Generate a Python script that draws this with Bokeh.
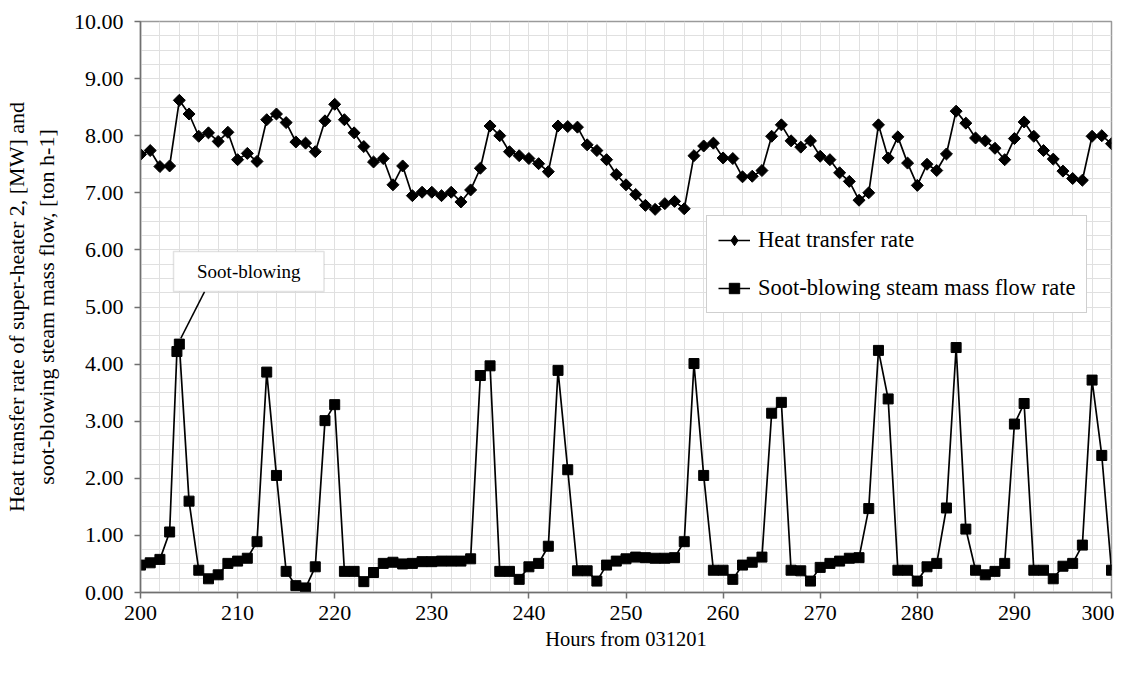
import numpy as np
from bokeh.plotting import figure
from bokeh.models import (SingleIntervalTicker, NumeralTickFormatter, BoxAnnotation,
                          Label, Legend, LegendItem)
from bokeh.embed import file_html
from bokeh.resources import INLINE

hours = list(range(200, 301))
heat_rate = [7.67, 7.74, 7.46, 7.47, 8.62, 8.38, 7.99, 8.05, 7.90, 8.06,
             7.58, 7.69, 7.55, 8.28, 8.38, 8.23, 7.89, 7.87, 7.72, 8.26,
             8.55, 8.28, 8.05, 7.81, 7.54, 7.60, 7.14, 7.47, 6.95, 7.01,
             7.01, 6.95, 7.01, 6.84, 7.05, 7.43, 8.17, 8.00, 7.72, 7.65,
             7.60, 7.51, 7.37, 8.17, 8.16, 8.15, 7.84, 7.74, 7.58, 7.32,
             7.14, 6.97, 6.78, 6.71, 6.81, 6.85, 6.72, 7.65, 7.82, 7.87,
             7.61, 7.60, 7.28, 7.29, 7.39, 7.99, 8.19, 7.91, 7.80, 7.91,
             7.64, 7.58, 7.35, 7.20, 6.87, 7.00, 8.19, 7.61, 7.98, 7.52,
             7.13, 7.50, 7.39, 7.68, 8.43, 8.22, 7.96, 7.91, 7.78, 7.58,
             7.95, 8.24, 7.99, 7.74, 7.59, 7.38, 7.25, 7.22, 7.99, 8.00,
             7.86]

soot_hours = [200, 201, 202, 203, 203.75] + list(range(204, 301))
soot_flow = [0.48, 0.52, 0.58, 1.06, 4.22, 4.35, 1.60, 0.39, 0.24, 0.31,
             0.51, 0.55, 0.60, 0.89, 3.86, 2.05, 0.37, 0.12, 0.08, 0.45,
             3.01, 3.29, 0.37, 0.37, 0.19, 0.35, 0.51, 0.53, 0.50, 0.51,
             0.54, 0.54, 0.55, 0.55, 0.55, 0.59, 3.80, 3.97, 0.37, 0.37,
             0.23, 0.45, 0.51, 0.81, 3.89, 2.15, 0.38, 0.38, 0.20, 0.48,
             0.55, 0.59, 0.62, 0.61, 0.60, 0.60, 0.61, 0.89, 4.01, 2.05,
             0.39, 0.39, 0.23, 0.48, 0.53, 0.62, 3.14, 3.33, 0.39, 0.38,
             0.20, 0.44, 0.51, 0.55, 0.60, 0.61, 1.47, 4.24, 3.39, 0.39,
             0.39, 0.20, 0.45, 0.51, 1.48, 4.29, 1.11, 0.39, 0.31, 0.37,
             0.51, 2.95, 3.31, 0.39, 0.39, 0.24, 0.46, 0.51, 0.83, 3.72,
             2.40, 0.39]

# annotation ("Soot-blowing" call-out box) in data units
note_box = dict(left=203.4, right=218.9, bottom=5.27, top=5.97)
note_line_x = [206.6, 204.15]
note_line_y = [5.27, 4.45]

FONT = "Liberation Serif"

p = figure(width=1114, height=657, x_range=(200, 300), y_range=(0, 10),
           output_backend="svg", toolbar_location=None,
           min_border_left=139, min_border_right=3,
           min_border_top=21, min_border_bottom=65)

p.background_fill_color = "white"
p.border_fill_color = "white"
p.outline_line_color = "#9a9a9a"
p.outline_line_width = 1.5

# grids
p.xgrid.ticker = SingleIntervalTicker(interval=2)
p.ygrid.ticker = SingleIntervalTicker(interval=0.25)
p.xgrid.grid_line_color = "#e0e0e0"
p.ygrid.grid_line_color = "#e0e0e0"
p.xgrid.grid_line_width = 1
p.ygrid.grid_line_width = 1

# axes
p.xaxis.ticker = SingleIntervalTicker(interval=10, num_minor_ticks=0)
p.yaxis.ticker = SingleIntervalTicker(interval=1, num_minor_ticks=0)
p.yaxis.formatter = NumeralTickFormatter(format="0.00")
for ax in (p.xaxis[0], p.yaxis[0]):
    ax.axis_line_color = "#707070"
    ax.axis_line_width = 1.5
    ax.major_tick_line_color = "#707070"
    ax.major_tick_line_width = 1.5
    ax.major_tick_in = 0
    ax.major_tick_out = 6
    ax.minor_tick_line_color = None
    ax.major_label_text_font = FONT
    ax.major_label_text_font_size = "22px"
    ax.major_label_text_color = "black"
    ax.axis_label_text_font = FONT
    ax.axis_label_text_font_style = "normal"
    ax.axis_label_text_color = "black"

p.xaxis.axis_label = "Hours from 031201"
p.xaxis.axis_label_text_font_size = "20.5px"
p.xaxis.major_label_standoff = 7
p.xaxis.axis_label_standoff = 5
p.yaxis.axis_label = ("Heat transfer rate of super-heater 2, [MW] and\n"
                      "soot-blowing steam mass flow, [ton h-1]")
p.yaxis.axis_label_text_font_size = "22px"
p.yaxis.major_label_standoff = 11
p.yaxis.axis_label_standoff = 12

# series
l1 = p.line(hours, heat_rate, line_color="black", line_width=1.7)
m1 = p.scatter(hours, heat_rate, marker="square", angle=np.pi / 4, size=8.5,
               fill_color="black", line_color="black")
l2 = p.line(soot_hours, soot_flow, line_color="black", line_width=1.7)
m2 = p.scatter(soot_hours, soot_flow, marker="square", size=10,
               fill_color="black", line_color="black")
# legend key glyph (a single undrawn NaN point) so the legend shows a diamond
m1_key = p.scatter(x=hours[:1], y=[np.nan], marker="diamond", size=12,
                   fill_color="black", line_color="black")

# annotation
p.add_layout(BoxAnnotation(left=note_box["left"], right=note_box["right"],
                           bottom=note_box["bottom"], top=note_box["top"],
                           fill_color="white", fill_alpha=1.0,
                           line_color="#a0a0a0", line_width=1.5, level="overlay"))
p.add_layout(Label(x=(note_box["left"] + note_box["right"]) / 2,
                   y=(note_box["bottom"] + note_box["top"]) / 2,
                   text="Soot-blowing", text_align="center", text_baseline="middle",
                   text_font=FONT, text_font_size="19px", text_color="black",
                   level="overlay"))
p.line(note_line_x, note_line_y, line_color="black", line_width=1.5)

legend = Legend(items=[LegendItem(label="Heat transfer rate", renderers=[l1, m1_key]),
                       LegendItem(label="Soot-blowing steam mass flow rate", renderers=[l2, m2])],
                location=(566, 279))
legend.label_text_font = FONT
legend.label_text_font_size = "22.5px"
legend.label_text_color = "black"
legend.padding = 11
legend.spacing = 22
legend.label_height = 26
legend.glyph_height = 26
legend.glyph_width = 32
legend.label_standoff = 8
legend.border_line_color = "#a0a0a0"
legend.border_line_width = 1.5
legend.background_fill_color = "white"
legend.background_fill_alpha = 1.0
legend.margin = 0
p.add_layout(legend, "center")

open("out.html", "w").write(file_html(p, INLINE))
